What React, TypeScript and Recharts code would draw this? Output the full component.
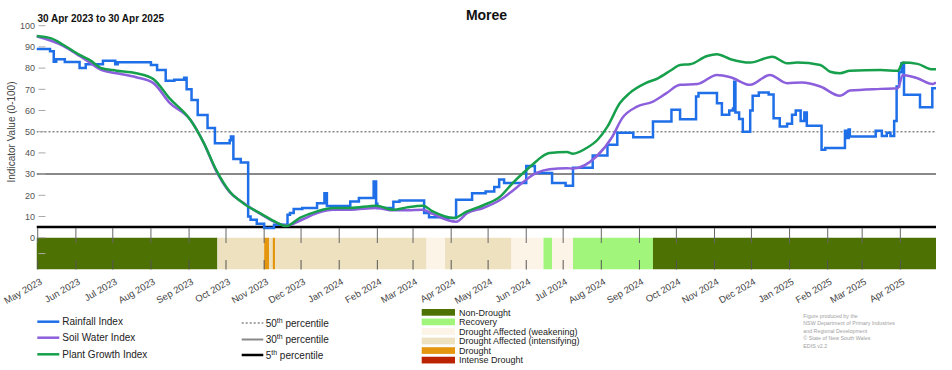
import { ComposedChart, Line, XAxis, YAxis, ReferenceArea } from 'recharts'

const START = '2023-04-30'
const END = '2025-04-30'

const FONT = '"Liberation Sans", Arial, sans-serif'

// month ticks along the bottom
const monthTicks = [
  '2023-05-01', '2023-06-01', '2023-07-01', '2023-08-01', '2023-09-01', '2023-10-01',
  '2023-11-01', '2023-12-01', '2024-01-01', '2024-02-01', '2024-03-01', '2024-04-01',
  '2024-05-01', '2024-06-01', '2024-07-01', '2024-08-01', '2024-09-01', '2024-10-01',
  '2024-11-01', '2024-12-01', '2025-01-01', '2025-02-01', '2025-03-01', '2025-04-01',
]
const monthLabels = [
  'May 2023', 'Jun 2023', 'Jul 2023', 'Aug 2023', 'Sep 2023', 'Oct 2023',
  'Nov 2023', 'Dec 2023', 'Jan 2024', 'Feb 2024', 'Mar 2024', 'Apr 2024',
  'May 2024', 'Jun 2024', 'Jul 2024', 'Aug 2024', 'Sep 2024', 'Oct 2024',
  'Nov 2024', 'Dec 2024', 'Jan 2025', 'Feb 2025', 'Mar 2025', 'Apr 2025',
]

const yTicks = [-7.5, 0, 10, 20, 30, 40, 50, 60, 70, 80, 90, 100]

// Rainfall Index (value changes at each date)
const rainfall: [string, number][] = [
  ['2023-04-30', 89], ['2023-05-11', 88], ['2023-05-14', 83], ['2023-05-16', 84.2],
  ['2023-05-23', 82.9], ['2023-06-04', 80], ['2023-06-09', 81.8], ['2023-06-23', 83.5],
  ['2023-07-03', 81.8], ['2023-07-05', 82.8], ['2023-08-01', 81.5], ['2023-08-06', 79.1],
  ['2023-08-13', 74], ['2023-08-20', 74.5], ['2023-08-28', 75.5], ['2023-08-30', 70],
  ['2023-09-03', 65], ['2023-09-08', 57.9], ['2023-09-16', 51.7], ['2023-09-22', 44.6],
  ['2023-10-04', 46], ['2023-10-05', 47.7], ['2023-10-07', 37.1], ['2023-10-13', 35.5],
  ['2023-10-19', 10], ['2023-10-21', 8.5], ['2023-10-26', 6.6], ['2023-11-01', 4.6],
  ['2023-11-09', 6.1], ['2023-11-20', 10.8], ['2023-11-22', 11.6], ['2023-11-25', 13.5],
  ['2023-12-02', 14], ['2023-12-14', 16.3], ['2023-12-20', 21], ['2023-12-22', 15],
  ['2024-01-10', 17.1], ['2024-01-17', 18.7], ['2024-01-29', 26.5], ['2024-01-31', 16],
  ['2024-02-01', 14], ['2024-02-14', 17], ['2024-02-19', 17.6], ['2024-03-10', 11.6],
  ['2024-03-14', 9.7], ['2024-03-28', 9.3], ['2024-04-05', 17.9], ['2024-04-18', 21],
  ['2024-04-29', 21.8], ['2024-05-06', 23.9], ['2024-05-10', 27.5], ['2024-05-14', 25.8],
  ['2024-06-01', 33.8], ['2024-06-08', 30.5], ['2024-06-22', 25.8], ['2024-07-03', 24.5],
  ['2024-07-09', 33], ['2024-07-25', 38.8], ['2024-08-06', 43.8], ['2024-08-14', 49.5],
  ['2024-08-27', 47.4], ['2024-09-12', 54.8], ['2024-09-27', 60.3], ['2024-10-04', 55.9],
  ['2024-10-17', 66.6], ['2024-10-19', 68.2], ['2024-11-03', 63.4], ['2024-11-07', 58],
  ['2024-11-13', 60], ['2024-11-16', 61], ['2024-11-17', 73.6], ['2024-11-18', 59],
  ['2024-11-21', 56], ['2024-11-24', 50], ['2024-11-30', 60], ['2024-12-02', 66.9],
  ['2024-12-07', 68.5], ['2024-12-15', 67.5], ['2024-12-19', 56.4], ['2024-12-24', 52.5],
  ['2024-12-30', 53.8], ['2025-01-03', 58], ['2025-01-06', 60], ['2025-01-10', 55],
  ['2025-01-13', 59], ['2025-01-15', 52.8], ['2025-01-27', 41.5], ['2025-01-30', 42.3],
  ['2025-02-15', 50.5], ['2025-02-17', 47], ['2025-02-18', 51], ['2025-02-19', 47.7],
  ['2025-03-12', 50.4], ['2025-03-17', 48], ['2025-03-21', 49.5], ['2025-03-24', 48],
  ['2025-03-27', 55], ['2025-03-29', 71.3], ['2025-03-31', 78], ['2025-04-02', 82.3],
  ['2025-04-04', 67.4], ['2025-04-17', 61.5], ['2025-04-27', 70.5], ['2025-04-30', 71],
]

// Soil Water Index
const soilWater: [string, number][] = [
  ['2023-04-30', 95], ['2023-05-22', 90.4], ['2023-06-04', 85.7], ['2023-06-13', 82.3],
  ['2023-06-22', 79.1], ['2023-07-04', 77.6], ['2023-07-20', 75.7], ['2023-08-03', 72.9],
  ['2023-08-16', 63.7], ['2023-09-02', 55.6], ['2023-09-13', 44.6], ['2023-09-23', 31.5],
  ['2023-10-04', 21.5], ['2023-10-15', 16.5], ['2023-10-31', 10.5], ['2023-11-11', 7],
  ['2023-11-19', 5.7], ['2023-11-30', 8], ['2023-12-14', 11.6], ['2023-12-27', 13.2],
  ['2024-01-10', 13.2], ['2024-01-31', 14], ['2024-02-14', 12.9], ['2024-02-25', 12.9],
  ['2024-03-09', 13.2], ['2024-03-17', 11.2], ['2024-04-05', 7.5], ['2024-04-14', 11.6],
  ['2024-04-27', 14], ['2024-05-11', 17.9], ['2024-05-21', 22.2], ['2024-06-09', 30.5],
  ['2024-06-20', 32.3], ['2024-07-04', 32.8], ['2024-07-09', 32.6], ['2024-07-28', 38.3],
  ['2024-08-10', 47.7], ['2024-08-18', 56.4], ['2024-08-30', 61.8], ['2024-09-12', 64.2],
  ['2024-09-23', 68.2], ['2024-10-04', 72.1], ['2024-10-18', 72.5], ['2024-11-03', 76.8],
  ['2024-11-14', 75.7], ['2024-11-30', 72.1], ['2024-12-16', 76.8], ['2024-12-30', 72.9],
  ['2025-01-11', 73.2], ['2025-01-26', 71.3], ['2025-02-11', 66.9], ['2025-02-19', 69.4],
  ['2025-03-16', 70.2], ['2025-03-30', 70.5], ['2025-04-03', 76.8], ['2025-04-15', 75.2],
  ['2025-04-27', 72.5], ['2025-04-30', 73.2],
]

// Plant Growth Index
const plantGrowth: [string, number][] = [
  ['2023-04-30', 95.1], ['2023-05-12', 94], ['2023-05-22', 90.9], ['2023-06-04', 86.2],
  ['2023-06-13', 83.5], ['2023-06-22', 79.9], ['2023-07-04', 78.8], ['2023-07-20', 77.6],
  ['2023-08-03', 74.8], ['2023-08-16', 65.8], ['2023-09-02', 55.6], ['2023-09-13', 44.6],
  ['2023-09-23', 32], ['2023-10-04', 21.8], ['2023-10-15', 16.3], ['2023-10-31', 10.8],
  ['2023-11-11', 7.2], ['2023-11-19', 5.5], ['2023-11-30', 9.3], ['2023-12-14', 12.4],
  ['2023-12-27', 14], ['2024-01-10', 14], ['2024-01-31', 15.1], ['2024-02-14', 13.2],
  ['2024-02-25', 14.3], ['2024-03-09', 15.1], ['2024-03-17', 12.4], ['2024-04-03', 9.3],
  ['2024-04-14', 12.4], ['2024-04-27', 15.3], ['2024-05-11', 19.5], ['2024-05-21', 25.8],
  ['2024-06-06', 34.4], ['2024-06-14', 38.3], ['2024-06-20', 39.9], ['2024-07-04', 40.4],
  ['2024-07-09', 39.6], ['2024-07-20', 42.3], ['2024-07-29', 46.2], ['2024-08-06', 52.4],
  ['2024-08-16', 63.4], ['2024-08-24', 68.2], ['2024-09-06', 72.9], ['2024-09-16', 75.2],
  ['2024-09-27', 79.1], ['2024-10-04', 81.5], ['2024-10-12', 81.8], ['2024-10-26', 85.7],
  ['2024-11-03', 86.5], ['2024-11-14', 84.2], ['2024-11-30', 82.6], ['2024-12-18', 85.4],
  ['2024-12-30', 82.3], ['2025-01-07', 82.6], ['2025-01-26', 81.5], ['2025-02-03', 78.3],
  ['2025-02-11', 77.6], ['2025-02-19', 78.7], ['2025-03-16', 79.1], ['2025-03-30', 78.7],
  ['2025-04-03', 82.6], ['2025-04-15', 82], ['2025-04-27', 79.4], ['2025-04-30', 79.5],
]

// drought category strip: each category holds from its start date to the next one
const droughtStarts = [
  '2023-04-30', '2023-09-24', '2023-11-01', '2023-11-05', '2023-11-08', '2023-11-10',
  '2024-03-12', '2024-03-27', '2024-05-20', '2024-06-15', '2024-06-22', '2024-07-09',
  '2024-09-12',
]
const droughtCategories = [
  'Non-Drought', 'Drought Affected (intensifying)', 'Drought', 'Drought Affected (intensifying)',
  'Drought', 'Drought Affected (intensifying)', 'Drought Affected (weakening)',
  'Drought Affected (intensifying)', 'Drought Affected (weakening)', 'Recovery',
  'Drought Affected (weakening)', 'Recovery', 'Non-Drought',
]

const categoryNames = [
  'Non-Drought', 'Recovery', 'Drought Affected (weakening)',
  'Drought Affected (intensifying)', 'Drought', 'Intense Drought',
]
const categoryColors = ['#4d7102', '#a2f57b', '#fdf4e8', '#ede1bf', '#e3960e', '#bb2200']

const percentiles = ['50', '30', '5']
const percentileValues = [50, 30, 5]

const BLUE = '#1f6fe8'
const PURPLE = '#8c5fdc'
const GREEN = '#17a04c'

const pctStyles = [
  { stroke: '#888', dash: '2 2', w: 1.5 },
  { stroke: '#888', dash: undefined, w: 2 },
  { stroke: '#000', dash: undefined, w: 2.5 },
]

function dayOf(date: string) {
  return Math.round((Date.parse(date) - Date.parse(START)) / 86400000)
}

function toPoints(rows: [string, number][]) {
  return rows.map(([d, v]) => ({ day: dayOf(d), v }))
}

const rainfallData = toPoints(rainfall)
const soilData = toPoints(soilWater)
const plantData = toPoints(plantGrowth)
const tickDays = monthTicks.map(dayOf)
const endDay = dayOf(END)

const pctData = percentileValues.map((v) => [
  { day: 0, v },
  { day: endDay, v },
])

const bands = droughtStarts.map((s, i) => ({
  x1: dayOf(s),
  x2: i + 1 < droughtStarts.length ? dayOf(droughtStarts[i + 1]) : endDay,
  color: categoryColors[categoryNames.indexOf(droughtCategories[i])],
}))

function XTick(props: any) {
  const { x, y, payload } = props
  const label = monthLabels[tickDays.indexOf(payload.value)]
  const ax = x + 5
  const ay = y + 14
  return (
    <g>
      <line x1={x} x2={x} y1={y - 41.5} y2={y - 26.5} stroke="#666" strokeWidth={1} />
      <line x1={x} x2={x} y1={y - 9.5} y2={y} stroke="#555" strokeWidth={1} />
      <text x={ax} y={ay} transform={`rotate(-30 ${ax} ${ay})`} textAnchor="end"
        fontSize={9.5} fill="#444" fontFamily={FONT}>
        {label}
      </text>
    </g>
  )
}

function YTick(props: any) {
  const { x, y, payload } = props
  const v = payload.value
  return (
    <g>
      <line x1={x + 2} x2={x + 9} y1={y} y2={y} stroke="#aaa" strokeWidth={1} />
      {v >= 0 && (
        <text x={x - 1.5} y={y + 3.2} textAnchor="end" fontSize={9} fill="#555" fontFamily={FONT}>
          {v}
        </text>
      )}
    </g>
  )
}

function Sup({ n }: { n: string }) {
  return (
    <>
      <tspan>{n}</tspan>
      <tspan fontSize={7} dy={-4}>th</tspan>
      <tspan dy={4}> percentile</tspan>
    </>
  )
}

export default function App() {
  const seriesLegend = [
    { name: 'Rainfall Index', color: BLUE, y: 321.7 },
    { name: 'Soil Water Index', color: PURPLE, y: 337.7 },
    { name: 'Plant Growth Index', color: GREEN, y: 354.3 },
  ]
  const pctLegendY = [323, 339.5, 355]
  const footnote = [
    'Figure produced by the',
    'NSW Department of Primary Industries',
    'and Regional Development',
    '\u00a9 State of New South Wales',
    'EDIS v2.2',
  ]

  return (
    <div style={{ position: 'absolute', left: 0, top: 0, width: 952, height: 370, background: '#fff', fontFamily: FONT }}>
      <ComposedChart
        width={952}
        height={305}
        margin={{ top: 25.7, right: 16, bottom: 5.5, left: 0 }}
      >
        {bands.map((b, i) => (
          <ReferenceArea key={`band-${i}`} x1={b.x1} x2={b.x2} y1={-15} y2={0}
            fill={b.color} fillOpacity={1} stroke="none" ifOverflow="hidden" />
        ))}
        <XAxis
          dataKey="day"
          type="number"
          domain={[0, endDay]}
          ticks={tickDays}
          interval={0}
          tickSize={0}
          tickMargin={0}
          tickLine={false}
          axisLine={false}
          height={30}
          tick={<XTick />}
          allowDataOverflow
        />
        <YAxis
          type="number"
          domain={[-15, 100]}
          ticks={yTicks}
          interval={0}
          tickSize={0}
          tickMargin={0}
          tickLine={false}
          axisLine={false}
          width={36.5}
          tick={<YTick />}
          allowDataOverflow
        />
        {pctData.map((d, i) => (
          <Line key={`pct-${percentiles[i]}`} data={d} dataKey="v" type="linear"
            stroke={pctStyles[i].stroke} strokeWidth={pctStyles[i].w}
            strokeDasharray={pctStyles[i].dash} dot={false} activeDot={false}
            isAnimationActive={false} />
        ))}
        <Line data={rainfallData} dataKey="v" type="stepAfter" stroke={BLUE} strokeWidth={2.5}
          dot={false} isAnimationActive={false} />
        <Line data={soilData} dataKey="v" type="monotone" stroke={PURPLE} strokeWidth={2.5}
          dot={false} isAnimationActive={false} />
        <Line data={plantData} dataKey="v" type="monotone" stroke={GREEN} strokeWidth={2.5}
          dot={false} isAnimationActive={false} />
      </ComposedChart>

      <svg width={952} height={370} style={{ position: 'absolute', left: 0, top: 0, pointerEvents: 'none' }}
        fontFamily={FONT}>
        <text x={486.5} y={20} textAnchor="middle" fontSize={14} fontWeight="bold" fill="#111">Moree</text>
        <text x={37.5} y={22} fontSize={10} fontWeight="bold" fill="#111">30 Apr 2023 to 30 Apr 2025</text>
        <text transform="rotate(-90)" x={-132} y={15} textAnchor="middle" fontSize={10} fill="#444">
          Indicator Value (0-100)
        </text>

        {seriesLegend.map((s) => (
          <g key={s.name}>
            <line x1={37.3} x2={59.3} y1={s.y} y2={s.y} stroke={s.color} strokeWidth={2.5} />
            <text x={62.3} y={s.y + 3.5} fontSize={10} fill="#222">{s.name}</text>
          </g>
        ))}

        {percentiles.map((n, i) => (
          <g key={n}>
            <line x1={241.7} x2={263.3} y1={pctLegendY[i]} y2={pctLegendY[i]} stroke={pctStyles[i].stroke}
              strokeWidth={pctStyles[i].w} strokeDasharray={pctStyles[i].dash} />
            <text x={265.7} y={pctLegendY[i] + 3.7} fontSize={10} fill="#222"><Sup n={n} /></text>
          </g>
        ))}

        {categoryNames.map((name, i) => {
          const top = 309 + i * 9.55
          return (
            <g key={name}>
              <rect x={421.7} y={top} width={33.3} height={6.7} fill={categoryColors[i]} />
              <text x={459} y={top + 6.7} fontSize={9} fill="#222">{name}</text>
            </g>
          )
        })}

        {footnote.map((line, i) => (
          <text key={line} x={803.3} y={317.5 + i * 7.5} fontSize={5.3} fill="#a0a0a0">{line}</text>
        ))}
      </svg>
    </div>
  )
}
